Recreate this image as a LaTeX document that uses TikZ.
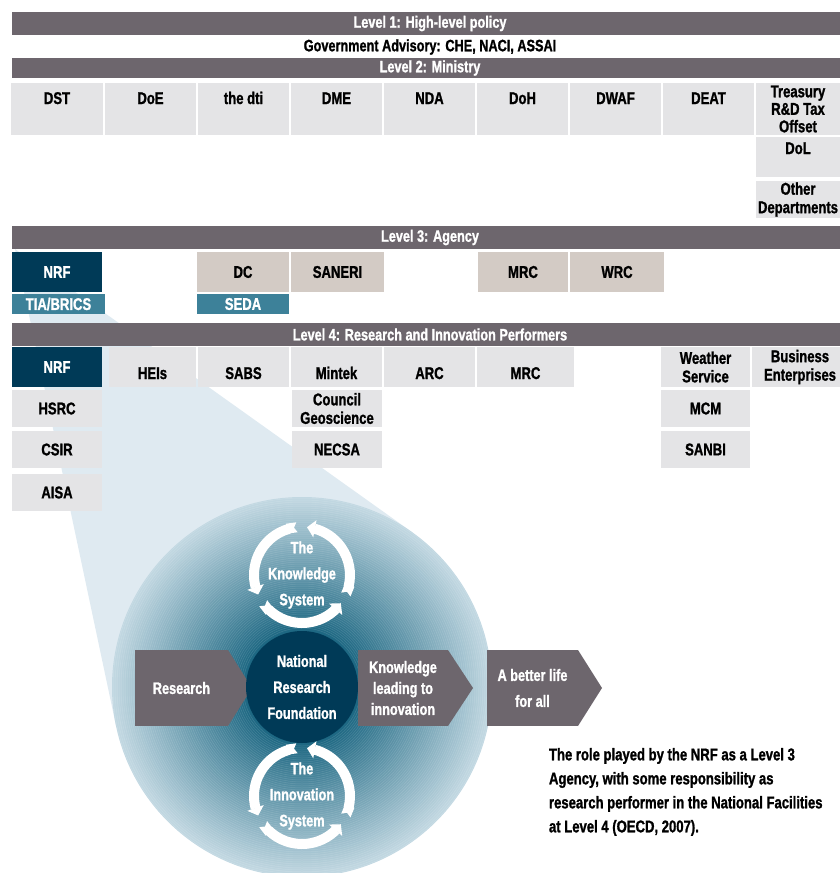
\documentclass[tikz,border=0pt]{standalone}
\usepackage{fontspec}
\setmainfont{Liberation Sans}[FakeStretch=0.77, BoldFeatures={FakeBold=1.2}]
\usetikzlibrary{calc,arrows.meta,bending,backgrounds}

\definecolor{barGray}{HTML}{6D666D}
\definecolor{cellGray}{HTML}{E4E4E6}
\definecolor{cellSand}{HTML}{D3CBC5}
\definecolor{nrfBlue}{HTML}{003A57}
\definecolor{linkTeal}{HTML}{3D8199}
\definecolor{funnelBlue}{HTML}{DFEAF1}
\definecolor{discInner}{HTML}{1B6681}
\definecolor{discRim}{HTML}{C2D8E2}

\begin{document}
\begin{tikzpicture}[x=1pt,y=-1pt,
  every node/.style={inner sep=0pt, outer sep=0pt},
  cs/.style 2 args={minimum width=#1pt, minimum height=#2pt},
  bar/.style={fill=barGray, text=white, anchor=north west,
    font=\bfseries\fontsize{16.5}{18}\selectfont},
  cell/.style={fill=cellGray, align=center, anchor=north west,
    font=\bfseries\fontsize{17}{18.5}\selectfont},
  sand/.style={cell, fill=cellSand},
  nrfcell/.style={cell, fill=nrfBlue, text=white},
  tealcell/.style={cell, fill=linkTeal, text=white},
  topalign/.style={text height=12pt, text depth=22pt},
  dolalign/.style={text height=12pt, text depth=18pt},
  lowalign/.style={text height=24pt, text depth=0pt},
  arrowbody/.style={fill=barGray, text=white, align=center, anchor=north west,
    font=\bfseries\fontsize{16.5}{21}\selectfont},
  disctext/.style={text=white, align=center,
    font=\bfseries\fontsize{16.5}{26}\selectfont},
  cyc/.style={draw=white, line width=10pt,
    {Triangle Cap[reversed,length=3pt]}-{Triangle[width=17pt,length=8pt]}},
  caption/.style={align=left, anchor=north west,
    font=\bfseries\fontsize{17}{24}\selectfont}
]
\useasboundingbox (0,0) rectangle (840,873);
\clip (0,0) rectangle (840,873);

% ---------- level bars ----------
\node[bar, cs={836}{23}] (lev1) at (12,12) {Level 1: High-level policy};
\node[font=\bfseries\fontsize{16.5}{18}\selectfont] (advisory) at (430,47)
  {Government Advisory: CHE, NACI, ASSAI};
\node[bar, cs={836}{20}] (lev2) at (12,58) {Level 2: Ministry};
\node[bar, cs={836}{23}] (lev3) at (12,226) {Level 3: Agency};
\node[bar, cs={836}{23}] (lev4) at (12,323) {Level 4: Research and Innovation Performers};

% ---------- level 2: ministries ----------
\node[cell, topalign, cs={92}{52}] (dst)  at (11,83)  {DST};
\node[cell, topalign, cs={91}{52}] (doe)  at (105,83) {DoE};
\node[cell, topalign, cs={91}{52}] (dti)  at (198,83) {the dti};
\node[cell, topalign, cs={91}{52}] (dme)  at (291,83) {DME};
\node[cell, topalign, cs={91}{52}] (nda)  at (384,83) {NDA};
\node[cell, topalign, cs={91}{52}] (doh)  at (477,83) {DoH};
\node[cell, topalign, cs={91}{52}] (dwaf) at (570,83) {DWAF};
\node[cell, topalign, cs={91}{52}] (deat) at (663,83) {DEAT};
\node[cell, cs={84}{52}, font=\bfseries\fontsize{17}{17.5}\selectfont] (treasury) at (756,83)
  {Treasury\\R\&D Tax\\Offset};
\node[cell, dolalign, cs={84}{40}] (dol) at (756,137) {DoL};
\node[cell, cs={84}{37}] (otherdept) at (756,181) {Other\\Departments};

% ---------- level 3: agencies ----------
\node[nrfcell, cs={90}{40}] (nrfagency) at (12,252) {NRF};
\node[tealcell, cs={93}{20}] (tia) at (12,294) {TIA/BRICS};
\node[sand, cs={92}{40}] (dc) at (197,252) {DC};
\node[tealcell, cs={92}{20}] (seda) at (197,294) {SEDA};
\node[sand, cs={93}{40}] (saneri) at (291,252) {SANERI};
\node[sand, cs={90}{40}] (mrcagency) at (478,252) {MRC};
\node[sand, cs={94}{40}] (wrc) at (570,252) {WRC};

% ---------- level 4: performers ----------
\node[nrfcell, cs={90}{40}] (nrfperf) at (12,347) {NRF};
\node[cell, lowalign, cs={87}{40}] (heis) at (109,347) {HEIs};
\node[cell, lowalign, cs={91}{40}] (sabs) at (198,347) {SABS};
\node[cell, lowalign, cs={91}{40}] (mintek) at (291,347) {Mintek};
\node[cell, lowalign, cs={91}{40}] (arc) at (384,347) {ARC};
\node[cell, lowalign, cs={97}{40}] (mrcperf) at (477,347) {MRC};
\node[cell, cs={89}{40}] (weather) at (661,347) {Weather\\Service};
\node[cell, cs={96}{40}] (business) at (752,347) {Business\\Enterprises};
\node[cell, cs={90}{37}] (hsrc) at (12,390) {HSRC};
\node[cell, cs={90}{37}] (council) at (292,390) {Council\\Geoscience};
\node[cell, cs={89}{37}] (mcm) at (661,390) {MCM};
\node[cell, cs={90}{37}] (csir) at (12,431) {CSIR};
\node[cell, cs={90}{37}] (necsa) at (292,431) {NECSA};
\node[cell, cs={89}{37}] (sanbi) at (661,431) {SANBI};
\node[cell, cs={90}{37}] (aisa) at (12,474) {AISA};

% ---------- the NRF disc: concentric bands, pale at the rim ----------
\node[circle, minimum size=380pt] (disc) at (302,687) {};
\foreach \rr in {190,188,...,56}{
  \pgfmathtruncatemacro\mixp{100*(190-\rr)/134}
  \fill[discInner!\mixp!discRim] (disc.center) circle[radius=\rr];
}
\foreach \rr in {59,61,...,189}
  \draw[white, opacity=0.13, line width=0.5pt] (disc.center) circle[radius=\rr];

% callout wedge from the NRF agency box down to the disc
\begin{scope}[on background layer]
  \coordinate (apex) at (15,249);
  \fill[funnelBlue] (apex)
    -- (tangent cs:node=disc,point={(apex)},solution=1)
    -- (disc.center)
    -- (tangent cs:node=disc,point={(apex)},solution=2) -- cycle;
\end{scope}

% knowledge and innovation cycles (three arrows running anticlockwise)
\node[disctext] (knowsys) at (302,575) {The\\Knowledge\\System};
\node[disctext] (innosys) at (302,796) {The\\Innovation\\System};
\foreach \c in {knowsys,innosys}{
  \draw[cyc] (\c.center) ++(-96:48) arc[start angle=-96, end angle=-204, radius=48];
  \draw[cyc] (\c.center) ++(-216:48) arc[start angle=-216, end angle=-324, radius=48];
  \draw[cyc] (\c.center) ++(-336:48) arc[start angle=-336, end angle=-444, radius=48];
}

% flow arrows
\node[arrowbody, cs={93}{76}] (research) at (135,650) {Research};
\fill[barGray] (research.north east) -- ([xshift=24pt]research.east)
  -- (research.south east) -- cycle;
\node[circle, fill=nrfBlue, minimum size=112pt, disctext] (nrf) at (302,687)
  {National\\Research\\Foundation};
\node[arrowbody, cs={90}{76}] (knowledge) at (358,650) {Knowledge\\leading to\\innovation};
\fill[barGray] (knowledge.north east) -- ([xshift=25pt]knowledge.east)
  -- (knowledge.south east) -- cycle;
\node[arrowbody, cs={91}{76}, font=\bfseries\fontsize{16.5}{26}\selectfont] (betterlife)
  at (487,650) {A better life\\for all};
\fill[barGray] (betterlife.north east) -- ([xshift=24pt]betterlife.east)
  -- (betterlife.south east) -- cycle;

% caption
\node[caption] (note) at (549,748)
  {The role played by the NRF as a Level 3\\
   Agency, with some responsibility as\\
   research performer in the National Facilities\\
   at Level 4 (OECD, 2007).};
\end{tikzpicture}
\end{document}
